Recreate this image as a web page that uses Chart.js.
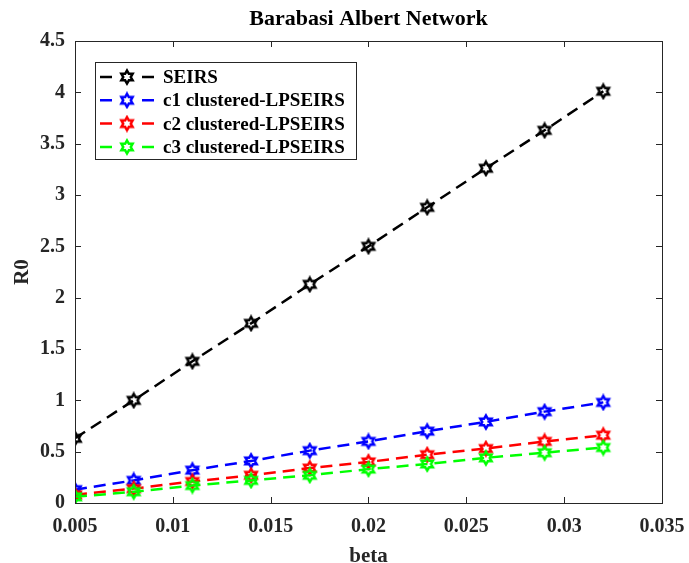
<!DOCTYPE html>
<html>
<head>
<meta charset="utf-8">
<script src="https://cdn.jsdelivr.net/npm/chart.js@4.4.1/dist/chart.umd.min.js"></script>
<style>
    html, body { margin: 0; padding: 0; background: #fff; }
    #wrap { width: 689px; height: 563px; }
</style>
</head>
<body>
<div id="wrap"><canvas id="r0Chart" width="689" height="563"></canvas></div>
<script>
// R0 vs beta for the Barabasi Albert network
const beta = [0.005, 0.008, 0.011, 0.014, 0.017, 0.020, 0.023, 0.026, 0.029, 0.032];
const seirs = [0.63, 1.00, 1.38, 1.75, 2.13, 2.50, 2.88, 3.26, 3.63, 4.01];
const c1Clustered = [0.13, 0.22, 0.32, 0.41, 0.51, 0.60, 0.70, 0.79, 0.89, 0.98];
const c2Clustered = [0.08, 0.14, 0.21, 0.27, 0.34, 0.40, 0.47, 0.53, 0.60, 0.66];
const c3Clustered = [0.06, 0.11, 0.17, 0.22, 0.27, 0.33, 0.38, 0.44, 0.49, 0.54];
const seriesNames = ['SEIRS', 'c1 clustered-LPSEIRS', 'c2 clustered-LPSEIRS', 'c3 clustered-LPSEIRS'];
const seriesColors = ['#000000', '#0000ff', '#ff0000', '#00ff00'];
const xTicks = [0.005, 0.01, 0.015, 0.02, 0.025, 0.03, 0.035];
const yTicks = [0, 0.5, 1, 1.5, 2, 2.5, 3, 3.5, 4, 4.5];

const SERIF = '"Times New Roman", "Liberation Serif", serif';
const AXIS_COLOR = '#262626';

// six-pointed star marker, like matlab's 'h'
function hexagram(color) {
    const c = document.createElement('canvas');
    c.width = 18; c.height = 18;
    const g = c.getContext('2d');
    const R = 6.5, r = R / Math.sqrt(3);
    g.beginPath();
    for (let i = 0; i < 12; i++) {
        const a = -Math.PI / 2 + i * Math.PI / 6;
        const rad = i % 2 === 0 ? R : r;
        const px = 9 + rad * Math.cos(a), py = 9 + rad * Math.sin(a);
        i === 0 ? g.moveTo(px, py) : g.lineTo(px, py);
    }
    g.closePath();
    g.strokeStyle = color;
    g.lineWidth = 2.5;
    g.lineJoin = 'miter';
    g.stroke();
    return c;
}
const markers = seriesColors.map(hexagram);

const allSeries = [seirs, c1Clustered, c2Clustered, c3Clustered];
const datasets = allSeries.map((vals, i) => ({
    label: seriesNames[i],
    data: beta.map((b, k) => ({ x: b, y: vals[k] })),
    borderColor: seriesColors[i],
    backgroundColor: seriesColors[i],
    borderWidth: 2.5,
    borderDash: [12, 7],
    tension: 0,
    pointStyle: markers[i],
    pointRadius: 7,
    pointHoverRadius: 7,
    order: 3 - i
}));

const fmt = v => String(parseFloat(Number(v).toFixed(4)));

// box around the plot with inward ticks on all four sides, plus the legend
const boxPlugin = {
    id: 'matlabBox',
    afterDraw(chart) {
        const { ctx, chartArea: a, scales } = chart;
        const t = 6;
        ctx.save();
        ctx.strokeStyle = AXIS_COLOR;
        ctx.lineWidth = 1;
        ctx.setLineDash([]);
        ctx.strokeRect(a.left + 0.5, a.top + 0.5, a.right - a.left, a.bottom - a.top);
        ctx.beginPath();
        xTicks.forEach(v => {
            const px = Math.round(scales.x.getPixelForValue(v)) + 0.5;
            ctx.moveTo(px, a.bottom); ctx.lineTo(px, a.bottom - t);
            ctx.moveTo(px, a.top); ctx.lineTo(px, a.top + t);
        });
        yTicks.forEach(v => {
            const py = Math.round(scales.y.getPixelForValue(v)) + 0.5;
            ctx.moveTo(a.left, py); ctx.lineTo(a.left + t, py);
            ctx.moveTo(a.right, py); ctx.lineTo(a.right - t, py);
        });
        ctx.stroke();

        // legend
        const lx = 95, ly = 62, lw = 261, lh = 97;
        ctx.fillStyle = '#fff';
        ctx.fillRect(lx, ly, lw, lh);
        ctx.strokeStyle = AXIS_COLOR;
        ctx.strokeRect(lx + 0.5, ly + 0.5, lw, lh);
        ctx.font = 'bold 19px ' + SERIF;
        ctx.textBaseline = 'middle';
        seriesNames.forEach((name, i) => {
            const y = ly + 15 + i * 23.3;
            ctx.strokeStyle = seriesColors[i];
            ctx.lineWidth = 2.5;
            ctx.beginPath();
            ctx.moveTo(100, y); ctx.lineTo(112, y);
            ctx.moveTo(142, y); ctx.lineTo(154, y);
            ctx.stroke();
            ctx.drawImage(markers[i], 127 - 9, y - 9);
            ctx.fillStyle = '#000';
            ctx.fillText(name, 163, y + 1);
        });
        ctx.restore();
    }
};

new Chart(document.getElementById('r0Chart'), {
    type: 'line',
    data: { datasets },
    options: {
        responsive: false,
        animation: false,
        events: [],
        layout: { padding: { top: 0, right: 27, bottom: 0, left: 0 } },
        plugins: {
            legend: { display: false },
            tooltip: { enabled: false },
            title: {
                display: true,
                text: 'Barabasi Albert Network',
                fullSize: false,
                color: '#000',
                font: { family: SERIF, size: 22, weight: 'bold', lineHeight: 1.2 },
                padding: { top: 6, bottom: 8.6 }
            }
        },
        scales: {
            x: {
                type: 'linear',
                min: 0.005,
                max: 0.035,
                afterFit: s => { s.height = 60; s.paddingLeft = 0; s.paddingRight = 0; },
                afterBuildTicks: s => { s.ticks = xTicks.map(v => ({ value: v })); },
                grid: { display: false, drawTicks: false },
                border: { display: false },
                ticks: {
                    padding: 12,
                    color: AXIS_COLOR,
                    font: { family: SERIF, size: 20, weight: 'bold' },
                    callback: fmt,
                    maxRotation: 0
                },
                title: {
                    display: true,
                    text: 'beta',
                    color: AXIS_COLOR,
                    font: { family: SERIF, size: 21, weight: 'bold', lineHeight: 1.2 },
                    padding: { top: 0, bottom: -6 }
                }
            },
            y: {
                min: 0,
                max: 4.5,
                afterFit: s => { s.width = 75; s.paddingTop = 0; s.paddingBottom = 0; },
                afterBuildTicks: s => { s.ticks = yTicks.map(v => ({ value: v })); },
                grid: { display: false, drawTicks: false },
                border: { display: false },
                ticks: {
                    padding: 10,
                    color: AXIS_COLOR,
                    font: { family: SERIF, size: 20, weight: 'bold' },
                    callback: fmt
                },
                title: {
                    display: true,
                    text: 'R0',
                    color: AXIS_COLOR,
                    font: { family: SERIF, size: 21, weight: 'bold', lineHeight: 1.2 },
                    padding: { top: 10, bottom: 0 }
                }
            }
        }
    },
    plugins: [boxPlugin]
});
</script>
</body>
</html>
